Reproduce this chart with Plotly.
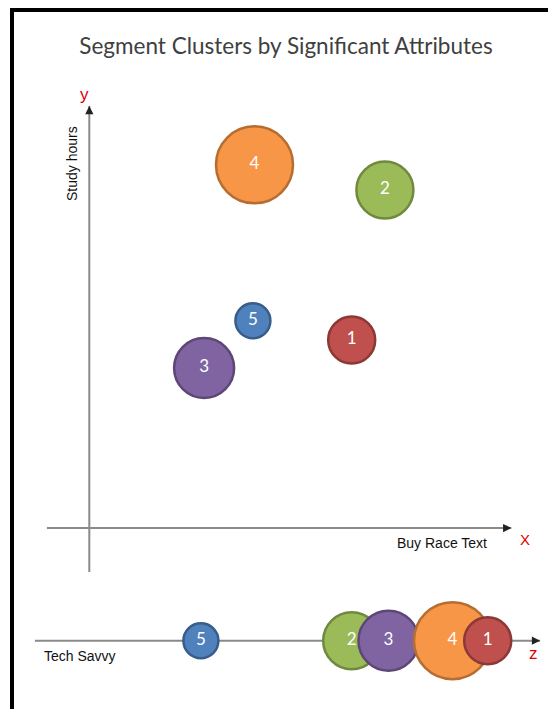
import numpy as np
import plotly.graph_objects as go

# ---- data ----
segments = ["1", "2", "3", "4", "5"]
buy_race_text = [6.56, 7.39, 2.87, 4.13, 4.09]      # x
study_hours = [4.70, 8.45, 4.00, 9.08, 5.18]        # y
tech_savvy = [9.96, 6.56, 7.48, 9.08, 2.79]         # z
cluster_size = [47, 57, 60, 77, 35]                 # bubble diameter
fill_colors = ["#C0504D", "#9BBB59", "#8064A2", "#F79646", "#4F81BD"]
edge_colors = ["#8C3836", "#71893F", "#5C4776", "#B66D31", "#385D8A"]

title_text = "Segment Clusters by Significant Attributes"
x_axis_label = "Buy Race Text"
y_axis_label = "Study hours"
z_axis_label = "Tech Savvy"

# axis line extents (data units)
x_line = [-1.06, 10.55]
y_line = [-1.10, 10.55]
z_line = [-1.36, 11.27]

W, H = 548, 709
PX = 40.0  # pixels per data unit
x0_px, y0_px, z0_py = 89.3, 528.0, 640.7

fig = go.Figure()

marker_common = dict(sizemode="diameter", sizeref=1, opacity=1)
label_font = dict(family="Lato, Open Sans, sans-serif", size=17, color="white")

# main x-y bubble chart
fig.add_trace(go.Scatter(
    x=buy_race_text, y=study_hours, mode="markers+text",
    text=segments, textposition="middle center", textfont=label_font,
    marker=dict(size=cluster_size, color=fill_colors,
                line=dict(color=edge_colors, width=2.5), **marker_common),
    cliponaxis=False, showlegend=False, hoverinfo="skip",
    xaxis="x", yaxis="y"))

# z strip (sorted so overlaps stack left-to-right)
order = np.argsort(tech_savvy)
fig.add_trace(go.Scatter(
    x=[tech_savvy[i] for i in order], y=[0] * len(order), mode="markers+text",
    text=[segments[i] for i in order], textposition="middle center", textfont=label_font,
    marker=dict(size=[cluster_size[i] for i in order],
                color=[fill_colors[i] for i in order],
                line=dict(color=[edge_colors[i] for i in order], width=2.5),
                **marker_common),
    cliponaxis=False, showlegend=False, hoverinfo="skip",
    xaxis="x", yaxis="y2"))

xr = [-x0_px / PX, (W - x0_px) / PX]
yr = [-(H - y0_px) / PX, y0_px / PX]
y2r = [-(H - z0_py) / PX, z0_py / PX]

shapes = [
    # frame
    dict(type="rect", xref="paper", yref="paper",
         x0=12 / W, x1=1.05, y0=-0.05, y1=1 - 10 / H,
         line=dict(color="black", width=4), fillcolor="rgba(0,0,0,0)", layer="below"),
    # x axis line
    dict(type="line", xref="x", yref="y", x0=x_line[0], x1=x_line[1], y0=0, y1=0,
         line=dict(color="#8a8a8a", width=2), layer="below"),
    # y axis line
    dict(type="line", xref="x", yref="y", x0=0, x1=0, y0=y_line[0], y1=y_line[1],
         line=dict(color="#8a8a8a", width=2), layer="below"),
    # z axis line
    dict(type="line", xref="x", yref="y2", x0=z_line[0], x1=z_line[1], y0=0, y1=0,
         line=dict(color="#8a8a8a", width=2), layer="below"),
]

arrow_common = dict(text="", showarrow=True, arrowhead=2, arrowsize=1.1,
                    arrowwidth=1.5, arrowcolor="#222222")


def label(text, px, py, size, color, angle=0, family="Liberation Sans, Arial"):
    return dict(text=text, x=px / W, y=1 - py / H, xref="paper", yref="paper",
                xanchor="center", yanchor="middle", showarrow=False, textangle=angle,
                font=dict(family=family, size=size, color=color))


annotations = [
    dict(x=x_line[1], y=0, ax=x_line[1] - 0.2, ay=0, xref="x", yref="y",
         axref="x", ayref="y", **arrow_common),
    dict(x=0, y=y_line[1], ax=0, ay=y_line[1] - 0.2, xref="x", yref="y",
         axref="x", ayref="y", **arrow_common),
    dict(x=z_line[1], y=0, ax=z_line[1] - 0.2, ay=0, xref="x", yref="y2",
         axref="x", ayref="y2", **arrow_common),
    # red axis letters
    label("y", 84, 94, 17, "#E00000"),
    label("X", 525, 539, 15, "#E00000"),
    label("z", 533, 653, 17, "#E00000"),
    # axis names
    label(y_axis_label, 72, 164, 14, "#111111", angle=-90),
    label(x_axis_label, 442, 543, 14, "#111111"),
    label(z_axis_label, 80, 656, 14, "#111111"),
]

axis_hidden = dict(visible=False, showgrid=False, zeroline=False, fixedrange=True)

fig.update_layout(
    width=W, height=H, margin=dict(l=0, r=0, t=0, b=0),
    paper_bgcolor="white", plot_bgcolor="white",
    title=dict(text=title_text, x=286 / W, y=1 - 46 / H, xanchor="center", yanchor="middle",
               font=dict(family="Lato, Open Sans, sans-serif", size=22.5, color="#404040")),
    xaxis=dict(range=xr, domain=[0, 1], **axis_hidden),
    yaxis=dict(range=yr, domain=[0, 1], **axis_hidden),
    yaxis2=dict(range=y2r, domain=[0, 1], overlaying="y", **axis_hidden),
    shapes=shapes, annotations=annotations,
)

fig.write_html("out.html")
